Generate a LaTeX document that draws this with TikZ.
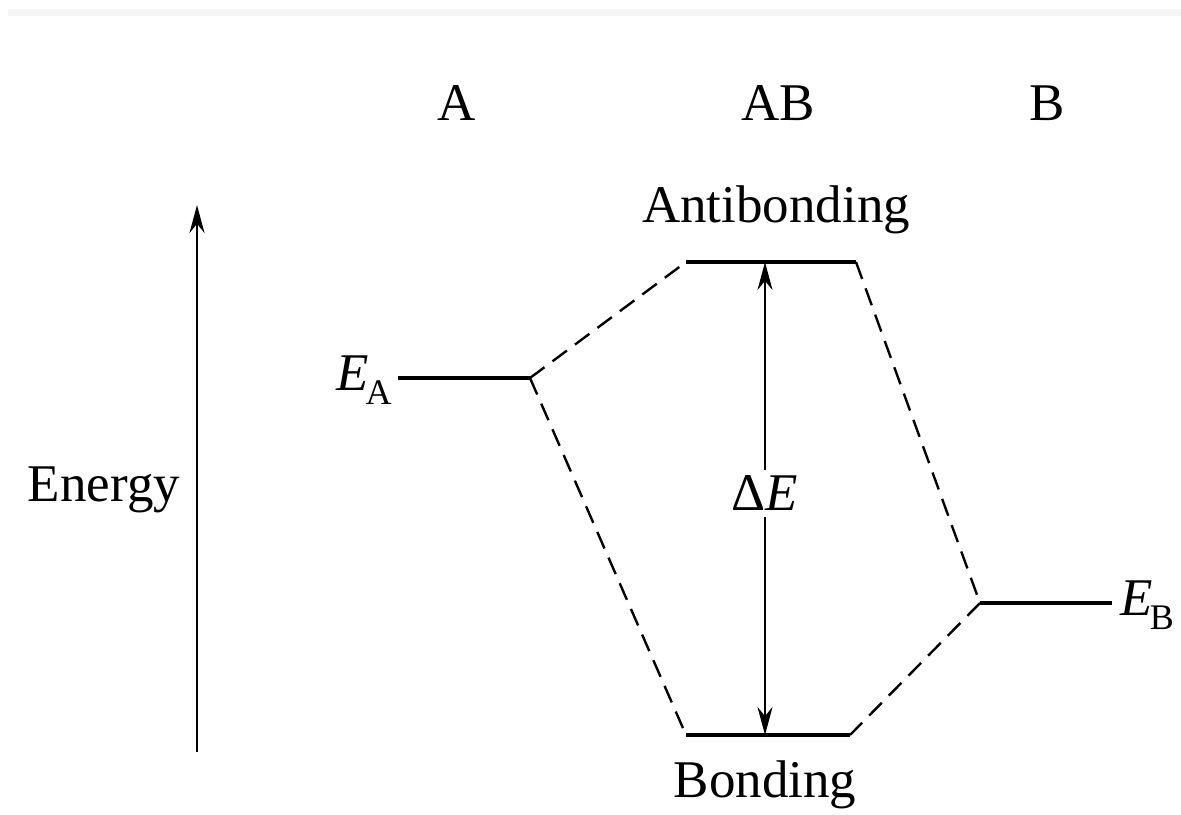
\documentclass[tikz,border=0pt]{standalone}
\usepackage{fontspec}
\setmainfont{Liberation Serif}
\usetikzlibrary{arrows.meta}
\newcommand{\subl}[1]{\kern-1.5pt\raisebox{-7pt}{\fontsize{18}{20}\selectfont #1}}
\begin{document}
\begin{tikzpicture}[x=0.5pt,y=-0.5pt,
  level/.style={line width=1.6pt},
  conn/.style={line width=1.2pt,dash pattern=on 9pt off 5pt},
  lbl/.style={font=\fontsize{26.5}{30}\selectfont,inner sep=0pt},
  tip/.style={-{Stealth[length=14pt,width=7.5pt]}}]
\useasboundingbox (0,0) rectangle (1181,814);
\fill[black!4] (8,9) rectangle (1181,16);
% axis
\coordinate (ax0) at (197,752);
\coordinate (ax1) at (197,205);
\draw[line width=1pt,tip] (ax0) -- (ax1);
\node[lbl] (energy) at (104,490) {Energy};
% column headers
\node[lbl] (hA) at (457,103) {A};
\node[lbl] (hAB) at (778,103) {AB};
\node[lbl] (hB) at (1047,103) {B};
% levels
\coordinate (a0) at (398,378); \coordinate (a1) at (530,378);
\coordinate (ab0) at (686,262); \coordinate (ab1) at (856,262);
\coordinate (b0) at (686,735); \coordinate (b1) at (850,735);
\coordinate (e0) at (980,603); \coordinate (e1) at (1112,603);
\draw[level] (a0) -- (a1);
\draw[level] (ab0) -- (ab1);
\draw[level] (b0) -- (b1);
\draw[level] (e0) -- (e1);
\node[lbl,anchor=base east] (EA) at (392,390) {\textit{E}\subl{A}};
\node[lbl,anchor=base west] (EB) at (1120,615) {\textit{E}\subl{B}};
\node[lbl] (anti) at (776,210) {Antibonding};
\node[lbl] (bond) at (765,785) {Bonding};
% dashed connectors
\draw[conn] (a1) -- (ab0);
\draw[conn] (a1) -- (b0);
\draw[conn] (ab1) -- (e0);
\draw[conn] (e0) -- (b1);
% delta E
\coordinate (d0) at (765,262); \coordinate (d1) at (765,735);
\draw[line width=1pt,{Stealth[length=14pt,width=7.5pt]}-{Stealth[length=14pt,width=7.5pt]}] (d0) -- (d1);
\node[lbl,fill=white,inner sep=3pt] (dE) at (765,493) {Δ\textit{E}};
\end{tikzpicture}
\end{document}
